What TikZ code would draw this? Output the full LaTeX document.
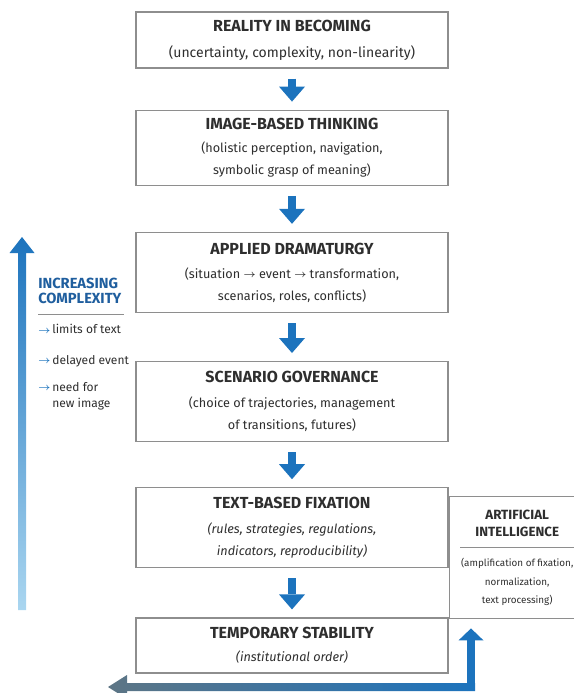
\documentclass[tikz,border=0pt]{standalone}
\usepackage{fontspec}
\setmainfont{Fira Sans}
\usetikzlibrary{arrows.meta,positioning}

\definecolor{flowBlue}{HTML}{1C73BD}
\definecolor{headBlue}{HTML}{1F5E9E}
\definecolor{paleBlue}{HTML}{AAD6F0}
\definecolor{slateGray}{HTML}{5D7585}
\definecolor{frameGray}{HTML}{8E8E8E}
\definecolor{inkGray}{HTML}{2E2E2E}

\newcommand{\stagehead}[1]{{\fontsize{12}{13}\selectfont\bfseries #1}}
\newcommand{\sarr}{\raisebox{0.3pt}{\scalebox{0.85}{\boldmath$\rightarrow$}}}

\begin{document}
\begin{tikzpicture}[x=0.75pt,y=-0.75pt,
  stage/.style={draw=frameGray,line width=0.9pt,minimum width=234pt,inner sep=2pt,
                align=center,text=inkGray,font=\fontsize{9.5}{16.5}\selectfont},
  flow/.style={-{Triangle[length=11.25pt,width=19.5pt,line width=0pt]},flowBlue,
               line width=6pt,shorten <=7.5pt,shorten >=6pt},
  sidehead/.style={anchor=north west,inner sep=0pt,align=left,text=headBlue,
                   font=\fontsize{11}{11.25}\selectfont\bfseries},
  sideitem/.style={anchor=north west,inner sep=0pt,align=left,text=inkGray,
                   font=\fontsize{9}{12}\selectfont},
  aibox/.style={draw=frameGray,line width=0.9pt,minimum width=102pt,minimum height=91.5pt,
                inner sep=0pt,align=center,text=inkGray,font=\fontsize{7.4}{14}\selectfont}
]
  \useasboundingbox (0,0) rectangle (574,693);

  % main chain
  \node[stage,minimum height=42pt] (real) at (292,40)
    {\stagehead{REALITY IN BECOMING}\\[3pt]{\fontsize{10.5}{16.5}\selectfont(uncertainty, complexity, non-linearity)}};
  \node[stage,minimum height=56.25pt,below=30.75pt of real] (image)
    {\stagehead{IMAGE-BASED THINKING}\\[1pt](holistic perception, navigation,\\symbolic grasp of meaning)};
  \node[stage,minimum height=60pt,below=34.5pt of image] (drama)
    {\stagehead{APPLIED DRAMATURGY}\\[1.5pt](situation \sarr{} event \sarr{} transformation,\\scenarios, roles, conflicts)};
  \node[stage,minimum height=60pt,below=36pt of drama] (govern)
    {\stagehead{SCENARIO GOVERNANCE}\\[2pt](choice of trajectories, management\\of transitions, futures)};
  \node[stage,minimum height=60pt,below=33.75pt of govern] (fix)
    {\stagehead{TEXT-BASED FIXATION}\\[2pt]{\itshape(rules, strategies, regulations,}\\{\itshape indicators, reproducibility)}};
  \node[stage,minimum height=41.25pt,below=36.75pt of fix] (stable)
    {\stagehead{TEMPORARY STABILITY}\\[1pt]{\itshape(institutional order)}};

  \draw[flow] (real) -- (image);
  \draw[flow] (image) -- (drama);
  \draw[flow] (drama) -- (govern);
  \draw[flow] (govern) -- (fix);
  \draw[flow] (fix) -- (stable);

  % AI box on the right
  \node[aibox,below right=6.75pt and 0pt of fix.north east] (ai)
    {{\fontsize{10}{15}\selectfont\bfseries ARTIFICIAL}\\[-1pt]
     {\fontsize{10}{15}\selectfont\bfseries INTELLIGENCE}\\[-5.5pt]
     {\color{frameGray}\rule{85.5pt}{0.7pt}}\\
     (amplification of fixation,\\normalization,\\text processing)};

  % feedback arrow
  \shade[left color=slateGray,right color=flowBlue]
    (108,687) -- (127,675) -- (127,683) -- (475,683) -- (475,691)
    -- (127,691) -- (127,699) -- cycle;
  \coordinate (bend) at (471,691);
  \draw[flow,shorten <=0pt,shorten >=6.75pt,-{Triangle[length=9pt,width=18.75pt,line width=0pt]}]
    (bend) -- (bend |- ai.south);

  % complexity arrow and notes
  \shade[top color=flowBlue,bottom color=paleBlue]
    (22,237) -- (34.5,253) -- (26,253) -- (26,610) -- (18,610) -- (18,253)
    -- (9.5,253) -- cycle;
  \node[sidehead] (cplx) at (38,278) {INCREASING\\COMPLEXITY};
  \draw[frameGray,line width=0.6pt] (cplx.south west) ++(0,10) -- ++(86,0);
  \node[sideitem] (limits) at (38,324) {\textcolor{flowBlue}{\sarr}\,limits of text};
  \node[sideitem] (delay) at (38,355) {\textcolor{flowBlue}{\sarr}\,delayed event};
  \node[sideitem] (newimg) at (38,382)
    {\textcolor{flowBlue}{\sarr}\,need for\\\hphantom{\sarr\,}new image};
\end{tikzpicture}
\end{document}
